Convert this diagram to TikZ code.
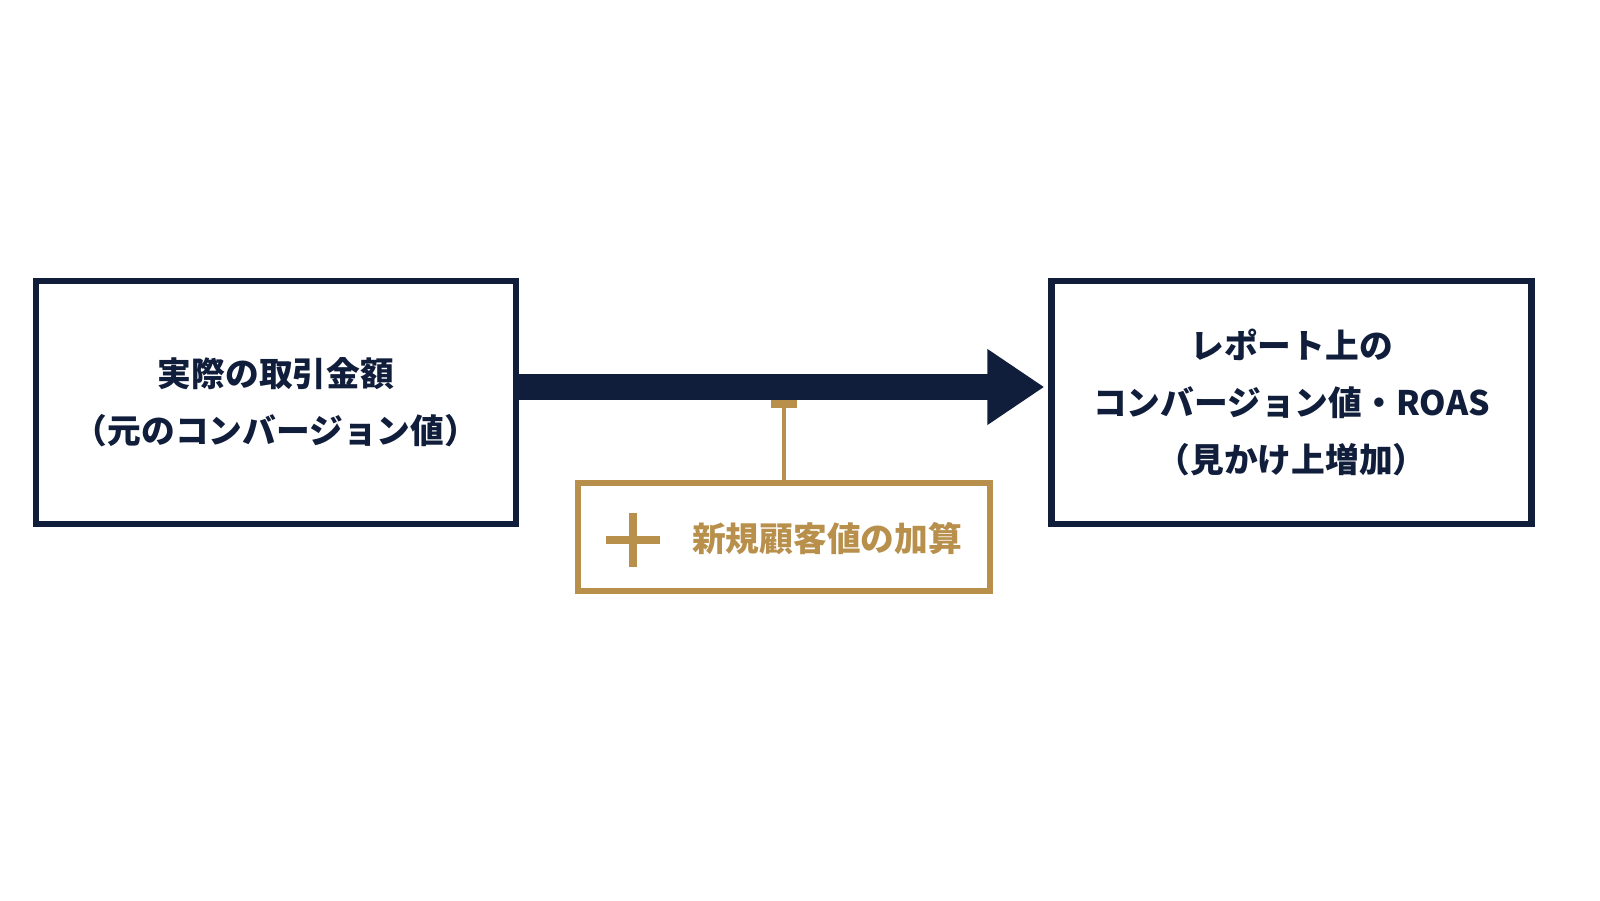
\documentclass[tikz,border=0pt]{standalone}
\usepackage{fontspec}
\newfontfamily\cjk{Noto Sans CJK JP}
\usetikzlibrary{arrows.meta}
\definecolor{navy}{HTML}{111E3B}
\definecolor{gold}{HTML}{B8904C}

\begin{document}
\begin{tikzpicture}
\useasboundingbox (0,0) rectangle (16,9);

\tikzset{BoxStyle/.style = {draw = navy, line width = 1.8pt, minimum width = 4.8cm,
 minimum height = 2.43cm, align = center, text = navy, font = \cjk\bfseries\fontsize{9.6pt}{16.2pt}\selectfont} }
\tikzset{AddStyle/.style = {draw = gold, line width = 1.5pt, minimum width = 4.12cm,
 minimum height = 1.08cm, text = gold} }

\node[BoxStyle] (Actual) at (2.76, 4.975) {実際の取引金額\\（元のコンバージョン値）};
\node[BoxStyle] (Report) at (12.915, 4.975) {レポート上の\\コンバージョン値・ROAS\\（見かけ上増加）};
\node[AddStyle] (Add) at (7.84, 3.63) {};
\node[text = gold, font = \cjk\bfseries\fontsize{9.6pt}{12pt}\selectfont] (AddText) at (8.27, 3.61) {新規顧客値の加算};

\draw[navy, line width = 0.26cm, -{Triangle[length = 0.57cm, width = 0.72cm]}, shorten > = 0.04cm]
 ([yshift = 0.155cm]Actual.east) -- ([yshift = 0.155cm]Report.west);

\coordinate (Tee) at (7.84, 4.96);
\draw[gold, line width = 1.3pt] (Add.north) -- (Tee);
\draw[gold, line width = 2.2pt] ([xshift = -0.13cm]Tee) -- ([xshift = 0.13cm]Tee);

% plus sign
\coordinate (Plus) at (6.33, 3.6);
\draw[gold, line width = 0.08cm] ([xshift = -0.27cm]Plus) -- ([xshift = 0.27cm]Plus);
\draw[gold, line width = 0.08cm] ([yshift = -0.27cm]Plus) -- ([yshift = 0.27cm]Plus);

\end{tikzpicture}
\end{document}
